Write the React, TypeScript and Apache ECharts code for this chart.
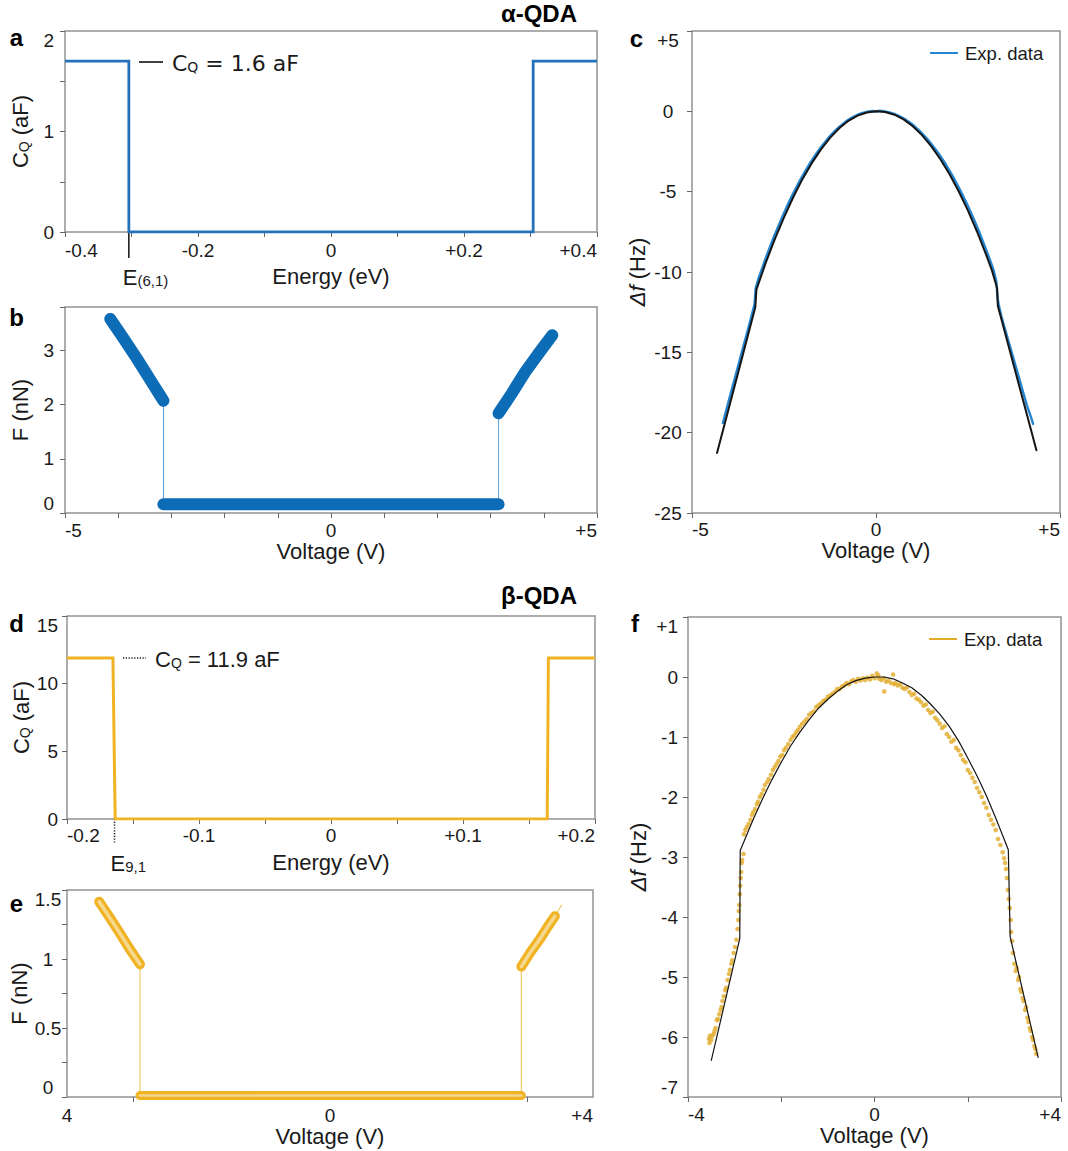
import React, { useEffect, useRef } from "react";
import * as echarts from "echarts";

// ---------------- Panel a (alpha-QDA quantum capacitance) ----------------
const aEnergy = [-0.4, -0.304, -0.304, 0.304, 0.304, 0.4];
const aCQ = [1.7, 1.7, 0, 0, 1.7, 1.7];
const aXTickValues = [-0.4, -0.2, 0, 0.2, 0.4];
const aXTickLabels = ["-0.4", "-0.2", "0", "+0.2", "+0.4"];
const aYTickValues = [0, 1, 2];
const aYTickLabels = ["0", "1", "2"];
const aLevelE = -0.304;

// ---------------- Panel b (alpha-QDA force) ----------------
const bLeftV = [-4.15, -3.9, -3.65, -3.4, -3.15];
const bLeftF = [3.58, 3.22, 2.85, 2.46, 2.07];
const bFlatV = [-3.15, 3.15];
const bFlatF = [0.16, 0.16];
const bRightV = [3.15, 3.4, 3.65, 3.9, 4.16];
const bRightF = [1.84, 2.21, 2.6, 2.94, 3.28];
const bXTickValues = [-5, 0, 5];
const bXTickLabels = ["-5", "0", "+5"];
const bYTickValues = [0, 1, 2, 3];
const bYTickLabels = ["0", "1", "2", "3"];

// ---------------- Panel c (alpha-QDA frequency shift) ----------------
const cExpV = [-4.16, -4.1, -4.0, -3.9, -3.8, -3.7, -3.6, -3.5, -3.4, -3.3, -3.27, -3.2, -3.1, -3.0, -2.9, -2.8, -2.7, -2.6, -2.5, -2.4, -2.3, -2.2, -2.1, -2.0, -1.9, -1.8, -1.7, -1.6, -1.5, -1.4, -1.3, -1.2, -1.1, -1.0, -0.9, -0.8, -0.7, -0.6, -0.5, -0.4, -0.3, -0.2, -0.1, 0, 0.1, 0.2, 0.3, 0.4, 0.5, 0.6, 0.7, 0.8, 0.9, 1.0, 1.1, 1.2, 1.3, 1.4, 1.5, 1.6, 1.7, 1.8, 1.9, 2.0, 2.1, 2.2, 2.3, 2.4, 2.5, 2.6, 2.7, 2.8, 2.9, 3.0, 3.1, 3.2, 3.27, 3.3, 3.33, 3.4, 3.5, 3.6, 3.7, 3.8, 3.9, 4.0, 4.1, 4.2, 4.27];
const cExpDf = [-19.4, -18.85, -18.0, -17.15, -16.3, -15.45, -14.6, -13.75, -12.9, -12.0, -11.0, -10.45, -9.8, -9.15, -8.55, -7.95, -7.4, -6.85, -6.32, -5.82, -5.34, -4.88, -4.44, -4.03, -3.63, -3.25, -2.9, -2.56, -2.25, -1.95, -1.67, -1.42, -1.18, -0.97, -0.78, -0.6, -0.45, -0.32, -0.21, -0.12, -0.06, 0.0, 0.02, -0.01, 0.04, 0.01, -0.03, -0.09, -0.16, -0.26, -0.37, -0.51, -0.66, -0.83, -1.04, -1.25, -1.49, -1.74, -2.02, -2.31, -2.62, -2.96, -3.31, -3.7, -4.1, -4.52, -4.96, -5.42, -5.9, -6.41, -6.93, -7.48, -8.06, -8.65, -9.27, -9.92, -10.6, -11.5, -12.0, -12.7, -13.5, -14.3, -15.1, -15.9, -16.7, -17.5, -18.3, -18.95, -19.45];
const cFitV = [-4.32, -3.8, -3.28, -3.25, -3.0, -2.75, -2.5, -2.25, -2.0, -1.75, -1.5, -1.25, -1.0, -0.75, -0.5, -0.25, 0, 0.25, 0.5, 0.75, 1.0, 1.25, 1.5, 1.75, 2.0, 2.25, 2.5, 2.75, 3.0, 3.15, 3.29, 3.31, 3.8, 4.36];
const cFitDf = [-21.26, -16.73, -12.2, -11.1, -9.45, -7.95, -6.6, -5.35, -4.22, -3.24, -2.38, -1.65, -1.05, -0.59, -0.27, -0.07, 0, -0.04, -0.21, -0.5, -0.93, -1.48, -2.17, -2.98, -3.92, -4.99, -6.18, -7.51, -8.96, -9.9, -11.0, -12.1, -16.3, -21.09];
const cXTickValues = [-5, 0, 5];
const cXTickLabels = ["-5", "0", "+5"];
const cYTickValues = [5, 0, -5, -10, -15, -20, -25];
const cYTickLabels = ["+5", "0", "-5", "-10", "-15", "-20", "-25"];

// ---------------- Panel d (beta-QDA quantum capacitance) ----------------
const dEnergy = [-0.2, -0.1652, -0.1635, 0.1638, 0.1647, 0.2];
const dCQ = [11.9, 11.9, 0, 0, 11.9, 11.9];
const dXTickValues = [-0.2, -0.1, 0, 0.1, 0.2];
const dXTickLabels = ["-0.2", "-0.1", "0", "+0.1", "+0.2"];
const dYTickValues = [0, 5, 10, 15];
const dYTickLabels = ["0", "5", "10", "15"];
const dLevelE = -0.164;

// ---------------- Panel e (beta-QDA force) ----------------
const eLeftV = [-3.51, -3.35, -3.2, -3.05, -2.89];
const eLeftF = [1.415, 1.3, 1.19, 1.075, 0.962];
const eFlatV = [-2.89, 2.91];
const eFlatF = [0.01, 0.01];
const eRightV = [2.91, 3.05, 3.2, 3.32, 3.42];
const eRightF = [0.945, 1.05, 1.15, 1.24, 1.31];
const eTipV = [3.52];
const eTipF = [1.39];
const eXTickValues = [-4, 0, 4];
const eXTickLabels = ["4", "0", "+4"];
const eXMinorTicks = [-3, 3];
const eYTickValues = [0, 0.5, 1, 1.5];
const eYTickLabels = ["0", "0.5", "1", "1.5"];

// ---------------- Panel f (beta-QDA frequency shift) ----------------
const fExpPoints = [
  [-3.55, -6.03], [-3.54, -6.1], [-3.53, -5.98], [-3.5, -6.05], [-3.48, -5.98], [-3.45, -5.95], [-3.43, -5.9], [-3.41, -5.85], [-3.38, -5.72], [-3.36, -5.7],
  [-3.33, -5.62], [-3.3, -5.55], [-3.28, -5.5], [-3.26, -5.4], [-3.23, -5.32], [-3.2, -5.22], [-3.18, -5.18], [-3.15, -5.05], [-3.12, -4.95], [-3.1, -4.88],
  [-3.07, -4.78], [-3.05, -4.72], [-3.02, -4.6], [-2.99, -4.5], [-2.96, -4.38], [-2.94, -4.2],
  [-2.92, -4.05], [-2.91, -3.9], [-2.9, -3.8], [-2.89, -3.62], [-2.88, -3.48], [-2.87, -3.35], [-2.86, -3.25], [-2.85, -3.1], [-2.84, -3.05], [-2.81, -2.95],
  [-2.8, -2.62], [-2.77, -2.55], [-2.74, -2.5], [-2.7, -2.45], [-2.66, -2.38], [-2.63, -2.3], [-2.6, -2.25], [-2.56, -2.2], [-2.52, -2.12], [-2.5, -2.08],
  [-2.46, -2.0], [-2.42, -1.95], [-2.38, -1.88], [-2.35, -1.8], [-2.3, -1.75], [-2.27, -1.7], [-2.22, -1.63], [-2.18, -1.55], [-2.14, -1.5], [-2.1, -1.45],
  [-2.06, -1.4], [-2.02, -1.33], [-1.98, -1.3], [-1.94, -1.22], [-1.9, -1.18], [-1.85, -1.12], [-1.8, -1.05], [-1.76, -1.0], [-1.72, -0.97], [-1.68, -0.92],
  [-1.64, -0.88], [-1.6, -0.83], [-1.55, -0.78], [-1.5, -0.74], [-1.45, -0.7], [-1.4, -0.63], [-1.35, -0.6], [-1.3, -0.57], [-1.25, -0.5], [-1.2, -0.47],
  [-1.15, -0.44], [-1.1, -0.4], [-1.05, -0.38], [-1.0, -0.33], [-0.95, -0.31], [-0.9, -0.28], [-0.85, -0.25], [-0.8, -0.2], [-0.75, -0.2], [-0.7, -0.16],
  [-0.65, -0.14], [-0.6, -0.1], [-0.55, -0.12], [-0.5, -0.07], [-0.45, -0.05], [-0.4, -0.08], [-0.35, -0.03], [-0.3, -0.06], [-0.25, -0.02], [-0.2, -0.05],
  [-0.15, -0.01], [-0.1, -0.04], [-0.05, 0.02], [0, -0.02], [0.05, 0.06], [0.08, 0.03], [0.1, -0.03], [0.15, -0.05], [0.2, -0.02], [0.21, -0.24],
  [0.25, -0.08], [0.3, -0.06], [0.35, -0.1], [0.4, 0.04], [0.42, -0.12], [0.45, -0.1], [0.5, -0.14], [0.55, -0.12], [0.6, -0.18], [0.65, -0.2],
  [0.7, -0.17], [0.75, -0.25], [0.8, -0.3], [0.85, -0.28], [0.9, -0.36], [0.95, -0.38], [1.0, -0.42], [1.05, -0.48], [1.1, -0.46], [1.15, -0.55],
  [1.2, -0.6], [1.25, -0.58], [1.3, -0.68], [1.35, -0.72], [1.4, -0.78], [1.45, -0.85], [1.5, -0.82], [1.55, -0.95], [1.6, -1.0], [1.65, -1.08],
  [1.7, -1.05], [1.75, -1.18], [1.8, -1.22], [1.85, -1.3], [1.9, -1.38], [1.95, -1.42], [2.0, -1.55], [2.05, -1.6], [2.1, -1.68], [2.15, -1.75],
  [2.2, -1.85], [2.25, -1.92], [2.3, -2.0], [2.35, -2.1], [2.4, -2.18], [2.45, -2.3], [2.5, -2.38], [2.55, -2.46], [2.6, -2.55], [2.65, -2.7],
  [2.7, -2.8], [2.75, -2.92], [2.78, -3.02], [2.8, -3.1], [2.82, -3.2], [2.84, -3.35], [2.86, -3.55], [2.88, -3.7], [2.9, -3.85], [2.92, -4.05],
  [2.93, -4.25], [2.95, -4.4], [2.97, -4.6], [3.0, -4.78], [3.03, -4.9], [3.05, -4.85], [3.08, -5.05], [3.1, -5.0], [3.13, -5.2], [3.15, -5.25],
  [3.18, -5.35], [3.2, -5.4], [3.23, -5.55], [3.25, -5.5], [3.28, -5.68], [3.3, -5.75], [3.33, -5.85], [3.35, -5.9], [3.38, -6.0], [3.4, -6.05],
  [3.43, -6.15], [3.45, -6.2], [3.47, -6.28],
];
const fFitV = [-3.5, -2.89, -2.88, -2.6, -2.4, -2.2, -2.0, -1.8, -1.6, -1.4, -1.2, -1.0, -0.8, -0.6, -0.4, -0.2, 0, 0.2, 0.4, 0.6, 0.8, 1.0, 1.2, 1.4, 1.6, 1.8, 2.0, 2.2, 2.4, 2.6, 2.87, 2.91, 3.51];
const fFitDf = [-6.39, -4.36, -2.89, -2.37, -2.03, -1.71, -1.42, -1.15, -0.92, -0.71, -0.52, -0.37, -0.24, -0.13, -0.06, -0.02, 0, 0, -0.03, -0.1, -0.18, -0.3, -0.45, -0.62, -0.82, -1.06, -1.35, -1.65, -1.98, -2.35, -2.88, -4.33, -6.34];
const fXTickValues = [-4, 0, 4];
const fXTickLabels = ["-4", "0", "+4"];
const fYTickValues = [1, 0, -1, -2, -3, -4, -5, -6, -7];
const fYTickLabels = ["+1", "0", "-1", "-2", "-3", "-4", "-5", "-6", "-7"];

// ---------------- styling ----------------
const FONT = "'Liberation Sans', Arial, Helvetica, sans-serif";
const WIDE_FONT = "'DejaVu Sans', Verdana, sans-serif";
const TEXT = "#1a1a1a";
const BLUE_LINE = "#2372ba";
const BLUE_THICK = "#0d6cb6";
const BLUE_THIN = "#5a9fd8";
const BLUE_EXP = "#2485d0";
const GOLD = "#f0b323";
const GOLD_DOT = "#e2ab2a";
const GOLD_THIN = "#f1c659";
const GOLD_INNER = "#f6d88f";
const FIT = "#151515";
const BORDER = "#939393";
const TICK_SIZE = 19;

const zip = (xs: number[], ys: number[]) => xs.map((x, i) => [x, ys[i]]);

function fmt(values: number[], labels: string[]) {
  return (v: number) => {
    const i = values.findIndex((t) => Math.abs(t - v) < 1e-6);
    return i < 0 ? "" : labels[i];
  };
}

const rich = {
  n: { fontFamily: FONT, fontSize: 22, color: TEXT, lineHeight: 24, verticalAlign: "bottom" },
  s: { fontFamily: FONT, fontSize: 14, color: TEXT, lineHeight: 10, verticalAlign: "bottom" },
  i: { fontFamily: FONT, fontSize: 22, color: TEXT, lineHeight: 24, fontStyle: "italic", verticalAlign: "bottom" },
};

function xAxis(gridIndex: number, min: number, max: number, interval: number, values: number[], labels: string[], name: string, nameGap: number, margin: number, extra: any = {}) {
  return {
    type: "value",
    gridIndex,
    min,
    max,
    interval,
    name,
    nameLocation: "middle",
    nameGap,
    nameTextStyle: { fontFamily: FONT, fontSize: 22, color: TEXT, rich },
    axisLine: { show: false, onZero: false },
    splitLine: { show: false },
    axisTick: { show: true, length: 5, lineStyle: { color: "#666", width: 1 }, ...(extra.axisTick || {}) },
    axisLabel: {
      formatter: fmt(values, labels),
      fontFamily: FONT,
      fontSize: TICK_SIZE,
      color: TEXT,
      margin,
      alignMinLabel: extra.alignMin || "left",
      alignMaxLabel: "right",
      ...(extra.axisLabel || {}),
    },
  };
}

function yAxis(gridIndex: number, min: number, max: number, interval: number, values: number[], labels: string[], name: string, nameGap: number, margin: number, extra: any = {}) {
  return {
    type: "value",
    gridIndex,
    min,
    max,
    interval,
    name,
    nameLocation: "middle",
    nameGap,
    nameTextStyle: { fontFamily: FONT, fontSize: 22, color: TEXT, rich },
    axisLine: { show: false, onZero: false },
    splitLine: { show: false },
    axisTick: { show: true, length: 5, lineStyle: { color: "#666", width: 1 } },
    axisLabel: {
      formatter: fmt(values, labels),
      fontFamily: FONT,
      fontSize: TICK_SIZE,
      color: TEXT,
      margin,
      align: extra.align || "right",
      verticalAlignMaxLabel: "top",
      verticalAlignMinLabel: extra.minVA || "middle",
    },
  };
}

const gridBox = (left: number, top: number, width: number, height: number) => ({
  left,
  top,
  width,
  height,
  show: true,
  borderColor: BORDER,
  borderWidth: 1.5,
  backgroundColor: "transparent",
});

function lineSeries(idx: number, data: number[][], color: string, width: number, extra: any = {}) {
  return {
    type: "line",
    xAxisIndex: idx,
    yAxisIndex: idx,
    data,
    symbol: "none",
    silent: true,
    lineStyle: { color, width, cap: "round", join: "round" },
    ...extra,
  };
}

function buildOption() {
  const bPath = zip(bLeftV, bLeftF).concat(zip(bFlatV, bFlatF)).concat(zip(bRightV, bRightF));
  const ePath = zip(eLeftV, eLeftF).concat(zip(eFlatV, eFlatF)).concat(zip(eRightV, eRightF)).concat(zip(eTipV, eTipF));

  const series: any[] = [
    // a
    lineSeries(0, zip(aEnergy, aCQ), BLUE_LINE, 2.8, { lineStyle: { color: BLUE_LINE, width: 2.8, cap: "butt", join: "miter" } }),
    // b
    lineSeries(1, bPath, BLUE_THIN, 1),
    lineSeries(1, zip(bLeftV, bLeftF), BLUE_THICK, 12),
    lineSeries(1, zip(bFlatV, bFlatF), BLUE_THICK, 12),
    lineSeries(1, zip(bRightV, bRightF), BLUE_THICK, 12),
    // c
    lineSeries(2, zip(cExpV, cExpDf), BLUE_EXP, 2.4),
    lineSeries(2, zip(cFitV, cFitDf), FIT, 2),
    // d
    lineSeries(3, zip(dEnergy, dCQ), GOLD, 3, { lineStyle: { color: GOLD, width: 3, cap: "butt", join: "miter" } }),
    // e
    lineSeries(4, ePath, GOLD_THIN, 1.1, { clip: false }),
    lineSeries(4, zip(eLeftV, eLeftF), GOLD, 10, { clip: false }),
    lineSeries(4, zip(eFlatV, eFlatF), GOLD, 9, { clip: false }),
    lineSeries(4, zip(eRightV, eRightF), GOLD, 10, { clip: false }),
    lineSeries(4, zip(eLeftV, eLeftF), GOLD_INNER, 3.5, { clip: false }),
    lineSeries(4, zip(eFlatV, eFlatF), GOLD_INNER, 2.5, { clip: false }),
    lineSeries(4, zip(eRightV, eRightF), GOLD_INNER, 3.5, { clip: false }),
    // f
    {
      type: "scatter",
      xAxisIndex: 5,
      yAxisIndex: 5,
      data: fExpPoints,
      symbolSize: 4.6,
      silent: true,
      itemStyle: { color: GOLD_DOT },
    },
    lineSeries(5, zip(fFitV, fFitDf), FIT, 1.2),
  ];

  return {
    animation: false,
    backgroundColor: "#ffffff",
    grid: [
      gridBox(65, 31, 532, 201),
      gridBox(65, 307, 532, 206),
      gridBox(692, 31, 368, 482),
      gridBox(67, 616, 528, 203),
      gridBox(67, 890, 526, 207),
      gridBox(688, 617, 373, 480),
    ],
    xAxis: [
      xAxis(0, -0.4, 0.4, 0.1, aXTickValues, aXTickLabels, "Energy (eV)", 33, 9),
      xAxis(1, -5, 5, 1, bXTickValues, bXTickLabels, "Voltage (V)", 26, 8),
      xAxis(2, -5, 5, 5, cXTickValues, cXTickLabels, "Voltage (V)", 26, 7),
      xAxis(3, -0.2, 0.2, 0.05, dXTickValues, dXTickLabels, "Energy (eV)", 32, 7),
      xAxis(4, -4, 4, 1, eXTickValues, eXTickLabels, "Voltage (V)", 27, 9, {
        alignMin: "center",
        axisTick: { customValues: eXMinorTicks },
        axisLabel: { customValues: eXTickValues },
      }),
      xAxis(5, -4, 4, 2, fXTickValues, fXTickLabels, "Voltage (V)", 27, 8),
    ],
    yAxis: [
      yAxis(0, 0, 2, 0.5, aYTickValues, aYTickLabels, "{n|C}{s|Q}{n| (aF)}", 34, 11),
      yAxis(1, 0, 3.8, 1, bYTickValues, bYTickLabels, "F (nN)", 34, 11, { minVA: "bottom" }),
      yAxis(2, -25, 5, 5, cYTickValues, cYTickLabels, "{i|Δf}{n| (Hz)}", 44, 24, { align: "center" }),
      yAxis(3, 0, 15, 5, dYTickValues, dYTickLabels, "{n|C}{s|Q}{n| (aF)}", 35, 9),
      yAxis(4, 0, 1.5, 0.25, eYTickValues, eYTickLabels, "F (nN)", 36, 19, { align: "center", minVA: "bottom" }),
      yAxis(5, -7, 1, 1, fYTickValues, fYTickLabels, "{i|Δf}{n| (Hz)}", 39, 10, { minVA: "bottom" }),
    ],
    series,
    graphic: staticGraphics(),
  };
}

const D_SERIES_INDEX = 7;

function label(text: string, x: number, y: number, align = "center", size = 24) {
  return {
    type: "text",
    x,
    y,
    silent: true,
    style: { text, fontFamily: FONT, fontWeight: "bold", fontSize: size, fill: "#000", align, verticalAlign: "middle" },
  };
}

function staticGraphics(): any[] {
  const legendRichA = {
    n: { fontFamily: WIDE_FONT, fontSize: 22, fill: TEXT, lineHeight: 24, verticalAlign: "bottom" },
    s: { fontFamily: WIDE_FONT, fontSize: 14, fill: TEXT, lineHeight: 10, verticalAlign: "bottom" },
  };
  const legendRichD = {
    n: { fontFamily: FONT, fontSize: 22, fill: TEXT, lineHeight: 24, verticalAlign: "bottom" },
    s: { fontFamily: FONT, fontSize: 14, fill: TEXT, lineHeight: 10, verticalAlign: "bottom" },
  };
  return [
    label("a", 16.5, 37),
    label("b", 16.5, 317.5),
    label("c", 636.5, 38.5),
    label("d", 16.5, 623),
    label("e", 16.5, 903),
    label("f", 635, 623),
    label("α-QDA", 577, 13, "right"),
    label("β-QDA", 577, 595, "right"),
    // legend in a
    { type: "line", silent: true, shape: { x1: 139, y1: 62, x2: 163, y2: 62 }, style: { stroke: "#111", lineWidth: 1.6 } },
    {
      type: "text", silent: true, x: 172, y: 62,
      style: { text: "{n|C}{s|Q}{n| = 1.6 aF}", rich: legendRichA, align: "left", verticalAlign: "middle" },
    },
    // legend in d
    { type: "line", silent: true, shape: { x1: 123, y1: 658, x2: 146, y2: 658 }, style: { stroke: "#111", lineWidth: 1.5, lineDash: [1.2, 1.6] } },
    {
      type: "text", silent: true, x: 155, y: 658,
      style: { text: "{n|C}{s|Q}{n| = 11.9 aF}", rich: legendRichD, align: "left", verticalAlign: "middle" },
    },
    // legend in c
    { type: "line", silent: true, shape: { x1: 930, y1: 53, x2: 958, y2: 53 }, style: { stroke: BLUE_EXP, lineWidth: 2 } },
    {
      type: "text", silent: true, x: 965, y: 53,
      style: { text: "Exp. data", fontFamily: FONT, fontSize: 18.5, fill: TEXT, align: "left", verticalAlign: "middle" },
    },
    // legend in f
    { type: "line", silent: true, shape: { x1: 929, y1: 639, x2: 957, y2: 639 }, style: { stroke: GOLD_DOT, lineWidth: 2 } },
    {
      type: "text", silent: true, x: 964, y: 639,
      style: { text: "Exp. data", fontFamily: FONT, fontSize: 18.5, fill: TEXT, align: "left", verticalAlign: "middle" },
    },
  ];
}

function markerGraphics(pa: number[], pd: number[]): any[] {
  const r = {
    n: { fontFamily: FONT, fontSize: 22, fill: TEXT, lineHeight: 24, verticalAlign: "bottom" },
    s: { fontFamily: FONT, fontSize: 15, fill: TEXT, lineHeight: 10, verticalAlign: "bottom" },
  };
  return [
    { type: "line", silent: true, shape: { x1: pa[0], y1: pa[1], x2: pa[0], y2: pa[1] + 26 }, style: { stroke: "#111", lineWidth: 1.5 } },
    { type: "text", silent: true, x: pa[0] - 6, y: pa[1] + 44, style: { text: "{n|E}{s|(6,1)}", rich: r, align: "left", verticalAlign: "middle" } },
    { type: "line", silent: true, shape: { x1: pd[0], y1: pd[1], x2: pd[0], y2: pd[1] + 24 }, style: { stroke: "#111", lineWidth: 1.5, lineDash: [1.2, 1.6] } },
    { type: "text", silent: true, x: pd[0] - 4, y: pd[1] + 43, style: { text: "{n|E}{s|9,1}", rich: r, align: "left", verticalAlign: "middle" } },
  ];
}

export default function App() {
  const ref = useRef<HTMLDivElement>(null);
  useEffect(() => {
    const el = ref.current;
    if (!el) return;
    const chart = echarts.init(el, undefined, { renderer: "svg" });
    chart.setOption(buildOption() as any);
    const pa = chart.convertToPixel({ seriesIndex: 0 } as any, [aLevelE, 0]) as unknown as number[];
    const pd = chart.convertToPixel({ seriesIndex: D_SERIES_INDEX } as any, [dLevelE, 0]) as unknown as number[];
    chart.setOption({ graphic: [...staticGraphics(), ...markerGraphics(pa, pd)] } as any);
    return () => chart.dispose();
  }, []);
  return (
    <div
      ref={ref}
      style={{ position: "absolute", left: 0, top: 0, width: 1068, height: 1151, background: "#fff" }}
    />
  );
}
